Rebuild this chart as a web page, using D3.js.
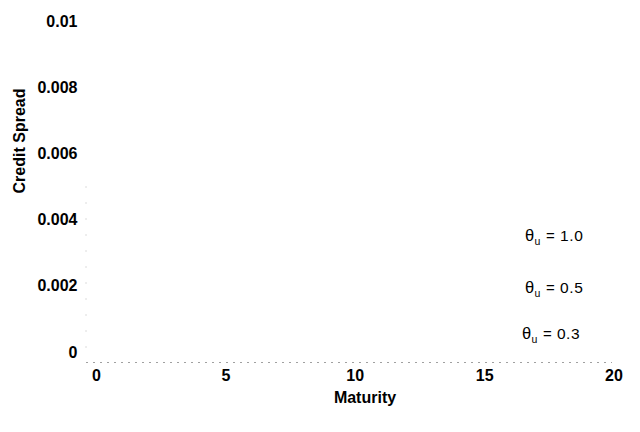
<!DOCTYPE html>
<html>
<head>
<meta charset="utf-8">
<script src="https://cdn.jsdelivr.net/npm/d3@7"></script>
<style>
  html, body { margin: 0; padding: 0; background: #fff; }
  svg { display: block; font-family: "Liberation Sans", Arial, sans-serif; }
</style>
</head>
<body>
<svg id="chart" width="640" height="432"></svg>
<script>
// Tick values for both axes
const xTicks = [0, 5, 10, 15, 20];
const yTicks = [0, 0.002, 0.004, 0.006, 0.008, 0.01];
const yTickLabels = ["0", "0.002", "0.004", "0.006", "0.008", "0.01"];

// Curve annotations: parameter label and where each is placed
const curveNames = ["1.0", "0.5", "0.3"];
const labelMaturity = [16.58, 16.58, 16.46];
const labelSpread = [0.00335, 0.00178, 0.00039];

const svg = d3.select("#chart");

const x = d3.scaleLinear().domain([0, 20]).range([96, 613.5]);
const y = d3.scaleLinear().domain([0, 0.01]).range([352, 21]);

// Faint dotted axis lines
svg.append("line")
  .attr("x1", 86).attr("x2", 612)
  .attr("y1", 362.5).attr("y2", 362.5)
  .attr("stroke", "#a0a0a0").attr("stroke-width", 1)
  .attr("stroke-dasharray", "2,5");
svg.append("line")
  .attr("x1", 86).attr("x2", 86)
  .attr("y1", y(0.005)).attr("y2", 362)
  .attr("stroke", "#b8b8b8").attr("stroke-width", 1)
  .attr("stroke-dasharray", "1,15");

// X axis labels
const xAxis = d3.axisBottom(x).tickValues(xTicks).tickSize(0).tickPadding(0)
  .tickFormat(d3.format("d"));
const gx = svg.append("g").attr("transform", "translate(0, 381)").call(xAxis);
gx.select(".domain").remove();
gx.selectAll("text")
  .attr("y", 0).attr("dy", 0)
  .attr("font-size", 16).attr("font-weight", "bold")
  .attr("font-family", "Liberation Sans, Arial, sans-serif")
  .attr("fill", "#000");

// Y axis labels
const yAxis = d3.axisLeft(y).tickValues(yTicks).tickSize(0).tickPadding(0)
  .tickFormat((d, i) => yTickLabels[i]);
const gy = svg.append("g").attr("transform", "translate(77.5, 0)").call(yAxis);
gy.select(".domain").remove();
gy.selectAll("text")
  .attr("font-size", 16).attr("font-weight", "bold")
  .attr("font-family", "Liberation Sans, Arial, sans-serif")
  .attr("fill", "#000");

// Axis titles
svg.append("text")
  .attr("x", 365).attr("y", 403)
  .attr("text-anchor", "middle")
  .attr("font-size", 16).attr("font-weight", "bold")
  .text("Maturity");
svg.append("text")
  .attr("transform", "translate(25, 141) rotate(-90)")
  .attr("text-anchor", "middle")
  .attr("font-size", 16).attr("font-weight", "bold")
  .text("Credit Spread");

// Curve annotations: theta with subscript u, then "= value"
const ann = svg.append("g").attr("fill", "#000");
curveNames.forEach((name, i) => {
  const bx = x(labelMaturity[i]);
  const by = y(labelSpread[i]);
  const g = ann.append("g");
  g.append("text").attr("x", bx).attr("y", by)
    .attr("font-size", 16.5).text("\u03B8");
  g.append("text").attr("x", bx + 9.5).attr("y", by + 4)
    .attr("font-size", 10.5).text("u");
  g.append("text").attr("x", bx + 21).attr("y", by)
    .attr("font-size", 15).text("=");
  g.append("text").attr("x", bx + 35).attr("y", by)
    .attr("font-size", 15.5).attr("letter-spacing", 0.6).text(name);
});
</script>
</body>
</html>
